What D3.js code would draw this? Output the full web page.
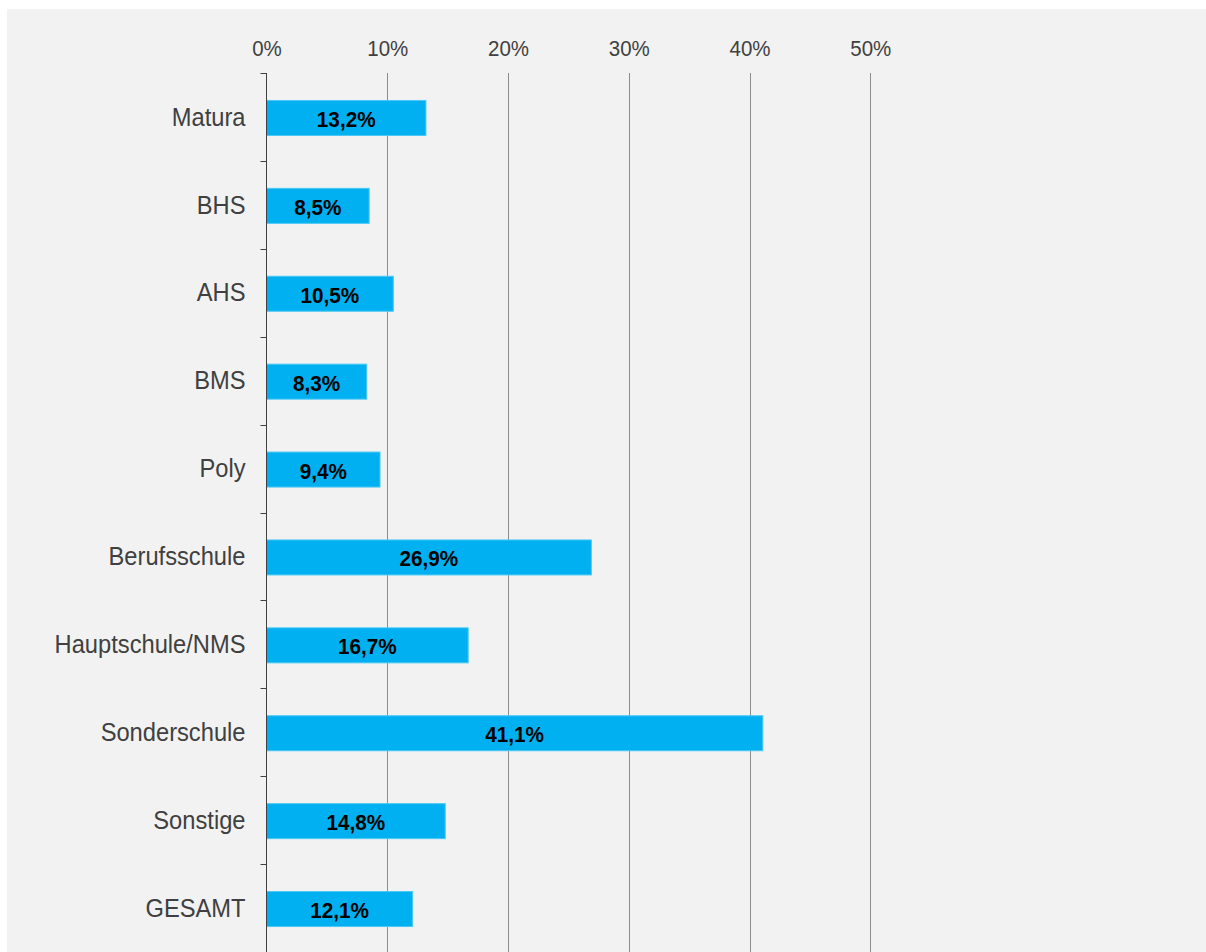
<!DOCTYPE html>
<html>
<head>
<meta charset="utf-8">
<script src="https://cdn.jsdelivr.net/npm/d3@7"></script>
<style>
  html, body { margin: 0; padding: 0; background: #ffffff; }
  svg { display: block; }
</style>
</head>
<body>
<svg id="chart" width="1206" height="952"></svg>
<script>
// School types and share per category (percent)
const categories = ["Matura", "BHS", "AHS", "BMS", "Poly", "Berufsschule", "Hauptschule/NMS", "Sonderschule", "Sonstige", "GESAMT"];
const values = [13.2, 8.5, 10.5, 8.3, 9.4, 26.9, 16.7, 41.1, 14.8, 12.1];
const tickValues = [0, 10, 20, 30, 40, 50];

const svg = d3.select("#chart");
const W = 1206, H = 952;
const FONT = "Liberation Sans, Arial, sans-serif";
const stretch = 1.08; // text is drawn slightly taller than wide

// panel background
svg.append("rect").attr("x", 7).attr("y", 9).attr("width", W - 7).attr("height", H - 9).attr("fill", "#f2f2f2");

const x = d3.scaleLinear().domain([0, 50]).range([266.5, 870.3]);
const plotTop = 73;
const y = d3.scaleBand().domain(categories).range([plotTop, 952]);
const step = y.step();
const barH = 35;

const fmt = v => d3.format(".1f")(v).replace(".", ",") + "%";

// vertical gridlines
svg.append("g").selectAll("line").data(tickValues.slice(1)).join("line")
  .attr("x1", d => Math.round(x(d)) + 0.5).attr("x2", d => Math.round(x(d)) + 0.5)
  .attr("y1", plotTop).attr("y2", H)
  .attr("stroke", "#8c8c8c").attr("stroke-width", 1);

// top axis labels
const xAxis = d3.axisTop(x).tickValues(tickValues).tickSize(0).tickPadding(0).tickFormat(d => d + "%");
const gx = svg.append("g").attr("transform", "translate(0,55.7)").call(xAxis);
gx.select(".domain").remove();
gx.selectAll("text")
  .attr("y", 0).attr("dy", null)
  .attr("transform", `scale(1,${stretch})`)
  .attr("font-family", FONT).attr("font-size", 20.5).attr("fill", "#404040");

// bars
svg.append("g").selectAll("rect").data(categories).join("rect")
  .attr("x", x(0))
  .attr("y", d => y(d) + (step - barH) / 2 + 1)
  .attr("width", (d, i) => x(values[i]) - x(0))
  .attr("height", barH)
  .attr("fill", "#00b0f0")
  .attr("stroke", "#4cc8f4").attr("stroke-width", 1);

// value labels
svg.append("g").selectAll("text").data(categories).join("text")
  .attr("transform", (d, i) => `translate(${(x(0) + x(values[i])) / 2},${y(d) + step / 2 + 10}) scale(1,${stretch})`)
  .attr("text-anchor", "middle")
  .attr("font-family", FONT)
  .attr("font-weight", "bold").attr("font-size", 20.7).attr("fill", "#000")
  .text((d, i) => fmt(values[i]));

// category axis: line, boundary ticks, labels
const ga = svg.append("g");
ga.append("line").attr("x1", x(0)).attr("x2", x(0)).attr("y1", plotTop).attr("y2", H)
  .attr("stroke", "#404040").attr("stroke-width", 1);
ga.selectAll("line.tick").data(d3.range(categories.length + 1)).join("line")
  .attr("class", "tick")
  .attr("x1", x(0) - 6).attr("x2", x(0))
  .attr("y1", i => Math.round(plotTop + i * step) + 0.5).attr("y2", i => Math.round(plotTop + i * step) + 0.5)
  .attr("stroke", "#404040").attr("stroke-width", 1);
ga.selectAll("text").data(categories).join("text")
  .attr("transform", d => `translate(245.5,${y(d) + step / 2 + 8.7}) scale(1,${stretch})`)
  .attr("text-anchor", "end")
  .attr("font-family", FONT)
  .attr("font-size", 23.7).attr("fill", "#404040")
  .text(d => d);
</script>
</body>
</html>
